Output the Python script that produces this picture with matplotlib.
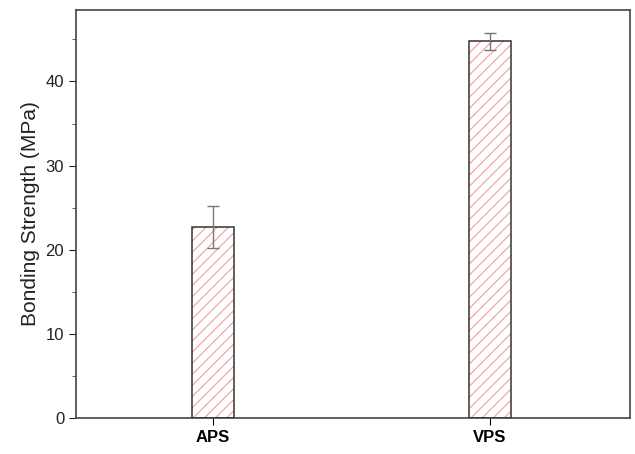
import matplotlib.pyplot as plt

plt.rcParams['font.family'] = ['Liberation Sans', 'DejaVu Sans']

labels = ['APS', 'VPS']
strength = [22.7, 44.8]
strength_err = [2.5, 1.0]

fig = plt.figure(figsize=(6.35, 4.54), dpi=100)
ax = fig.add_axes([0.1197, 0.0793, 0.8723, 0.8987])

x = range(len(labels))
plt.rcParams['hatch.linewidth'] = 0.9
# hatched fill in pink, then outline on top
ax.bar(x, strength, width=0.15, color='white', edgecolor='#f2a7a7',
       hatch='///', linewidth=0, zorder=2)
ax.bar(x, strength, width=0.15, fill=False, edgecolor='#333333',
       linewidth=1.1, zorder=3)
ax.errorbar(x, strength, yerr=strength_err, fmt='none', ecolor='#777777',
            elinewidth=1.0, capsize=4, capthick=1.0, zorder=4)

ax.set_xlim(-0.495, 1.505)
ax.set_ylim(0, 48.5)
ax.set_xticks(list(x))
ax.set_xticklabels(labels, fontweight='bold', fontsize=12)
ax.set_yticks([0, 10, 20, 30, 40])
ax.set_yticks([5, 15, 25, 35, 45], minor=True)
ax.tick_params(axis='y', which='major', direction='out', length=5, labelsize=12, colors='#222222')
ax.tick_params(axis='y', which='minor', direction='out', length=3, color='#444444')
ax.tick_params(axis='x', direction='out', length=5, labelsize=12)
ax.set_ylabel('Bonding Strength (MPa)', fontsize=15, color='#222222')

for s in ax.spines.values():
    s.set_color('#444444')
    s.set_linewidth(1.2)

fig.savefig('out.png', dpi=100)
